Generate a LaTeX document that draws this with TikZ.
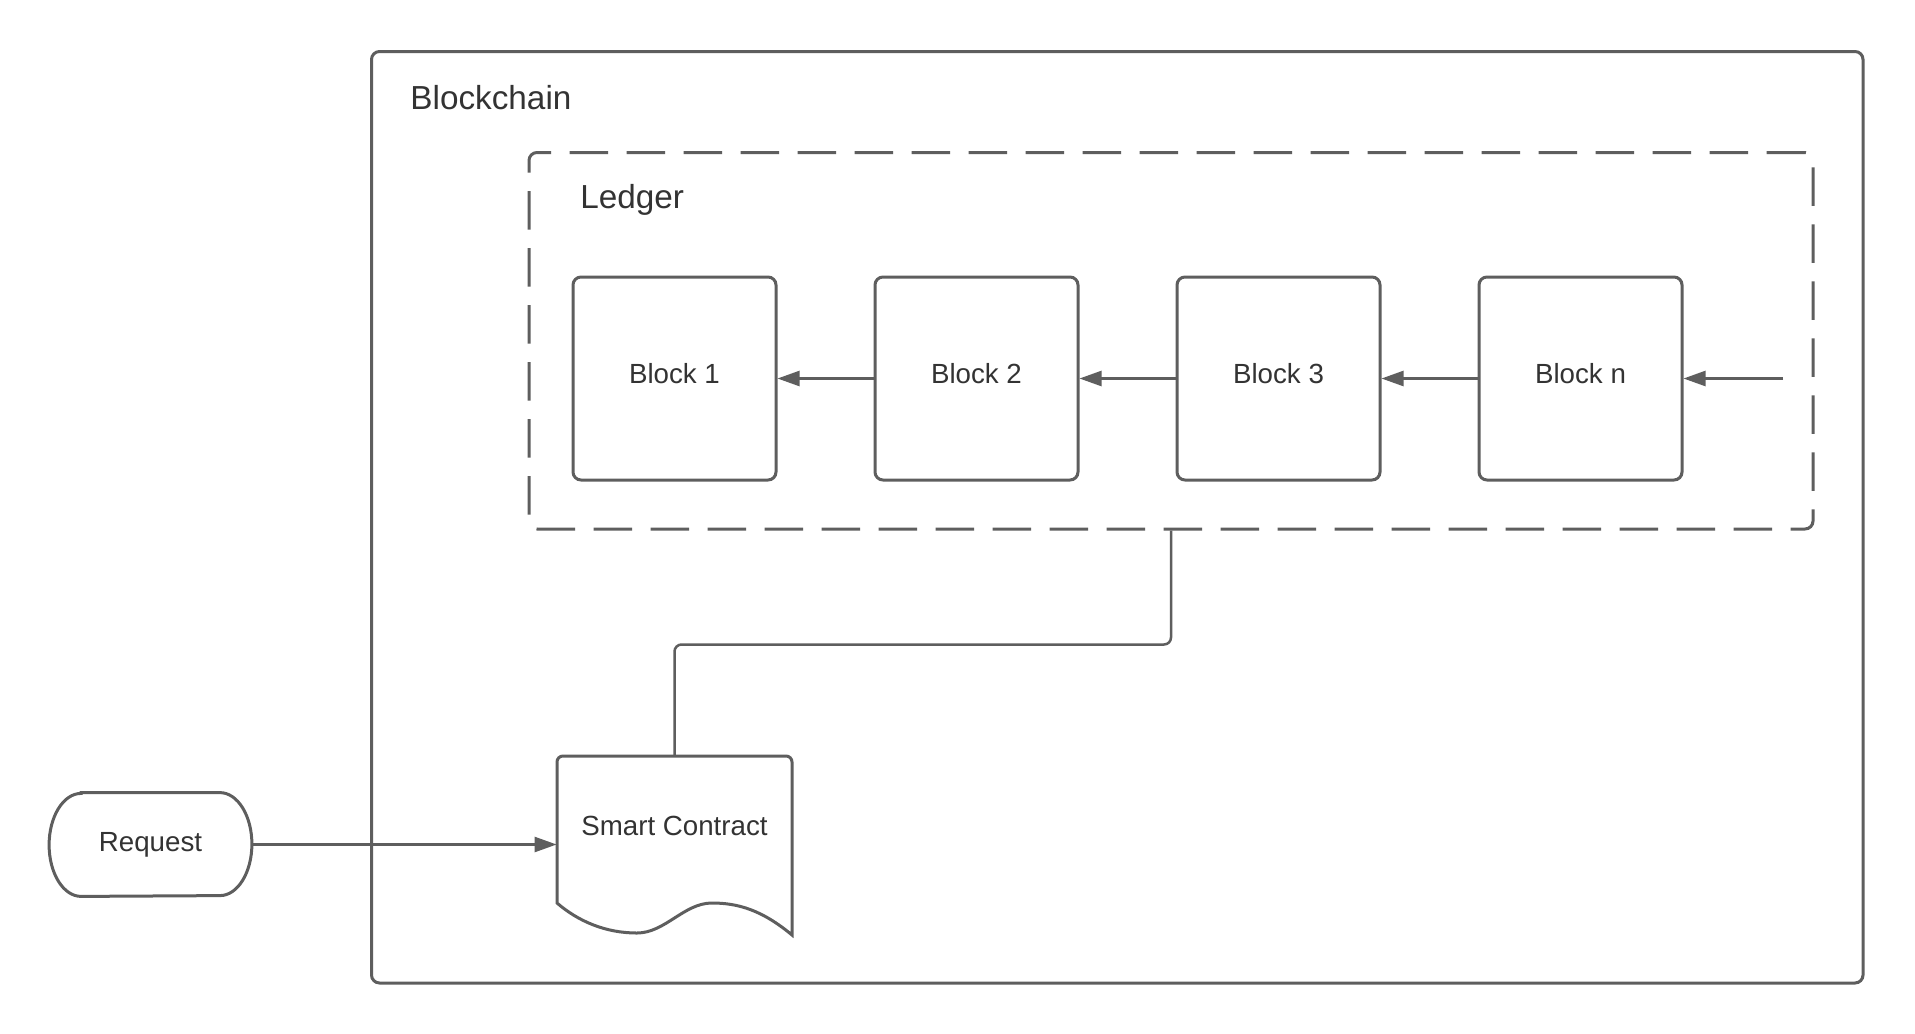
\documentclass[tikz,border=0pt]{standalone}
\usepackage{fontspec}
\setmainfont{Liberation Sans}
\usetikzlibrary{arrows.meta}
\definecolor{linec}{HTML}{5E5E5E}
\definecolor{textc}{HTML}{333333}
\tikzset{
  box/.style={draw=linec, line width=1.5pt, fill=white},
  blockbox/.style={box, rounded corners=4pt, minimum width=101.5pt, minimum height=101.5pt, inner sep=0pt,
    text=textc, font=\fontsize{13.85pt}{16pt}\selectfont, text height=7.5pt, text depth=2.5pt},
  conn/.style={draw=linec, line width=1.25pt},
  arr/.style={conn, -{Triangle[length=11pt,width=7.5pt]}},
  bigtext/.style={text=textc, font=\fontsize{16.65pt}{19pt}\selectfont, inner sep=0pt},
  smalltext/.style={text=textc, font=\fontsize{13.85pt}{16pt}\selectfont, inner sep=0pt}
}
\begin{document}
\begin{tikzpicture}[x=0.5pt, y=-0.5pt]
\useasboundingbox (0,0) rectangle (1915,1033);
% outer blockchain box
\node[box, rounded corners=4pt, minimum width=745.75pt, minimum height=465.75pt, inner sep=0pt] (chain) at (1117.25,517.25) {};
\node[bigtext, anchor=base west] (chainlabel) at (410,109) {Blockchain};
% ledger
\node[box, dash pattern=on 19.25pt off 9.25pt, rounded corners=4pt, minimum width=642pt, minimum height=188.25pt, inner sep=0pt] (ledger) at (1171,340.75) {};
\node[bigtext, anchor=base west] (ledgerlabel) at (580,208) {Ledger};
% blocks
\node[blockbox] (b1) at (674.5,378.5) {Block 1};
\node[blockbox] (b2) at (976.5,378.5) {Block 2};
\node[blockbox] (b3) at (1278.5,378.5) {Block 3};
\node[blockbox] (bn) at (1580.5,378.5) {Block n};
\coordinate (inc) at (1783,378.5);
\draw[arr] (b2.west) -- (b1.east);
\draw[arr] (b3.west) -- (b2.east);
\draw[arr] (bn.west) -- (b3.east);
\draw[arr] (inc) -- (bn.east);
% smart contract (document shape)
\node[inner sep=0pt, minimum width=117.5pt, minimum height=89.5pt] (sc) at (674.5,845.5) {};
\draw[box] (557,903) [rounded corners=3pt] -- (557,756) -- (792,756) -- (792,800) [sharp corners] -- (792,935)
  .. controls (762,910) and (738,903) .. (712,903)
  .. controls (684,903) and (665,933) .. (637,933)
  .. controls (605,933) and (578,921) .. (557,903) -- cycle;
\node[smalltext, anchor=base] (sclabel) at (674.5,835) {Smart Contract};
% request (terminator)
\node[inner sep=0pt, minimum width=101pt, minimum height=51.5pt] (req) at (150.5,844.5) {};
\draw[box] ([xshift=16pt]req.north west) -- ([xshift=-16pt]req.north east)
  arc[start angle=90, end angle=-90, x radius=16pt, y radius=25.75pt]
  -- ([xshift=16pt]req.south west)
  arc[start angle=270, end angle=90, x radius=16pt, y radius=25.75pt] -- cycle;
\node[smalltext] (reqlabel) at (req.center) {Request};
% connectors
\draw[arr] (req.east) -- (req.east -| sc.west);
\draw[conn, rounded corners=3.5pt] (ledger.south) -- ++(0,114) -| (sc.north);
\end{tikzpicture}
\end{document}
